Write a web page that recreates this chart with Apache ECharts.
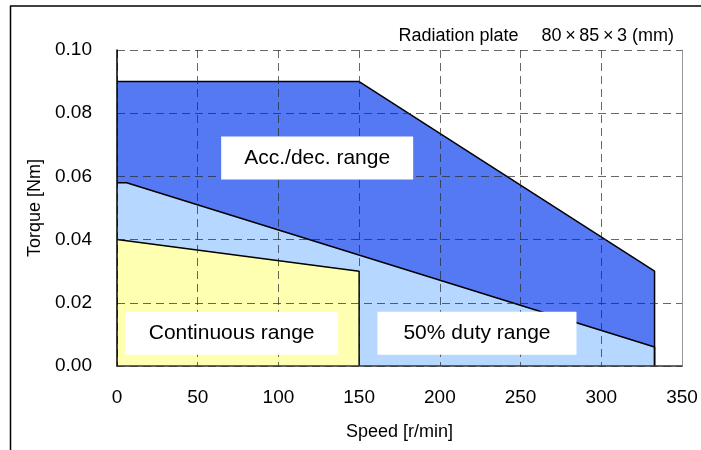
<!DOCTYPE html>
<html>
<head>
<meta charset="utf-8">
<script src="https://cdn.jsdelivr.net/npm/echarts@6/dist/echarts.min.js"></script>
<style>html,body{margin:0;padding:0;background:#fff;}#c{width:701px;height:450px;}</style>
</head>
<body>
<div id="c"></div>
<script>
// Data
const accSpeed = [0, 150, 333, 333];
const accTorque = [0.09, 0.09, 0.03, 0];
const dutySpeed = [0, 6, 333, 333];
const dutyTorque = [0.058, 0.058, 0.006, 0];
const contSpeed = [0, 150, 150];
const contTorque = [0.04, 0.03, 0];
const regionLabels = ['Acc./dec. range', 'Continuous range', '50% duty range'];
const labelSpeed = [124, 71, 223];
const labelTorque = [0.0658, 0.0104, 0.0104];
const labelBoxW = [192, 213, 199];
const titleText = 'Radiation plate\u2003 80\u2009\u00d7\u200985\u2009\u00d7\u20093 (mm)';
const xName = 'Speed [r/min]';
const yName = 'Torque [Nm]';

function zip(a, b) { return a.map((v, i) => [v, b[i]]); }
const FONT = 'Liberation Sans, Arial, sans-serif';
const chart = echarts.init(document.getElementById('c'), null, { renderer: 'canvas' });
const gridLine = { show: true, lineStyle: { color: 'rgba(40,40,40,0.7)', type: [8, 5], width: 1 } };
function areaSeries(data, fill) {
  return {
    type: 'line', data: data, showSymbol: false, z: 2, silent: true,
    lineStyle: { color: '#000', width: 1.5 },
    areaStyle: { color: fill, opacity: 1 }
  };
}
chart.setOption({
  animation: false,
  backgroundColor: '#fff',
  textStyle: { fontFamily: FONT },
  title: {
    text: titleText, right: 22, top: 22,
    textStyle: { fontSize: 18, fontWeight: 'normal', color: '#000', fontFamily: FONT }
  },
  grid: { left: 117, top: 50, right: 19, bottom: 84 },
  xAxis: {
    type: 'value', min: 0, max: 350, interval: 50, z: 5,
    name: xName, nameLocation: 'middle', nameGap: 57,
    nameTextStyle: { fontSize: 18, color: '#000', fontFamily: FONT },
    axisLine: { show: true, onZero: false, lineStyle: { color: '#333', width: 1.5 } },
    axisTick: { show: false },
    axisLabel: { fontSize: 19, color: '#000', margin: 22, fontFamily: FONT },
    splitLine: gridLine
  },
  yAxis: [{
    type: 'value', min: 0, max: 0.1, interval: 0.02, z: 5,
    name: yName, nameLocation: 'middle', nameGap: 73,
    nameTextStyle: { fontSize: 18, color: '#000', fontFamily: FONT },
    axisLine: { show: true, lineStyle: { color: '#000', width: 1.5 } },
    axisTick: { show: false },
    axisLabel: { fontSize: 19, color: '#000', margin: 25, fontFamily: FONT, formatter: v => v.toFixed(2) },
    splitLine: gridLine
  }, {
    type: 'value', min: 0, max: 0.1, interval: 0.02, position: 'right', z: 5,
    axisLine: { show: true, lineStyle: { color: '#999', width: 1 } },
    axisTick: { show: false }, axisLabel: { show: false }, splitLine: { show: false }
  }],
  graphic: [
    { type: 'line', shape: { x1: 10, y1: 6, x2: 701, y2: 6 }, style: { stroke: '#000', lineWidth: 1.5 }, z: 100 },
    { type: 'line', shape: { x1: 10.5, y1: 6, x2: 10.5, y2: 450 }, style: { stroke: '#000', lineWidth: 1.5 }, z: 100 }
  ],
  series: [
    areaSeries(zip(accSpeed, accTorque), '#5578f3'),
    areaSeries(zip(dutySpeed, dutyTorque), '#b6d7ff'),
    areaSeries(zip(contSpeed, contTorque), '#ffffb2'),
    {
      type: 'scatter', z: 10, silent: true, symbolSize: 0,
      itemStyle: { opacity: 1 },
      data: regionLabels.map((n, i) => ({
        name: n, value: [labelSpeed[i], labelTorque[i]],
        label: { width: labelBoxW[i] }
      })),
      label: {
        show: true, position: 'inside', opacity: 1,
        formatter: p => p.name,
        fontSize: 21, color: '#000', fontFamily: FONT,
        backgroundColor: '#fff', padding: [11, 0, 11, 0], align: 'center', verticalAlign: 'middle'
      }
    }
  ]
});
</script>
</body>
</html>
